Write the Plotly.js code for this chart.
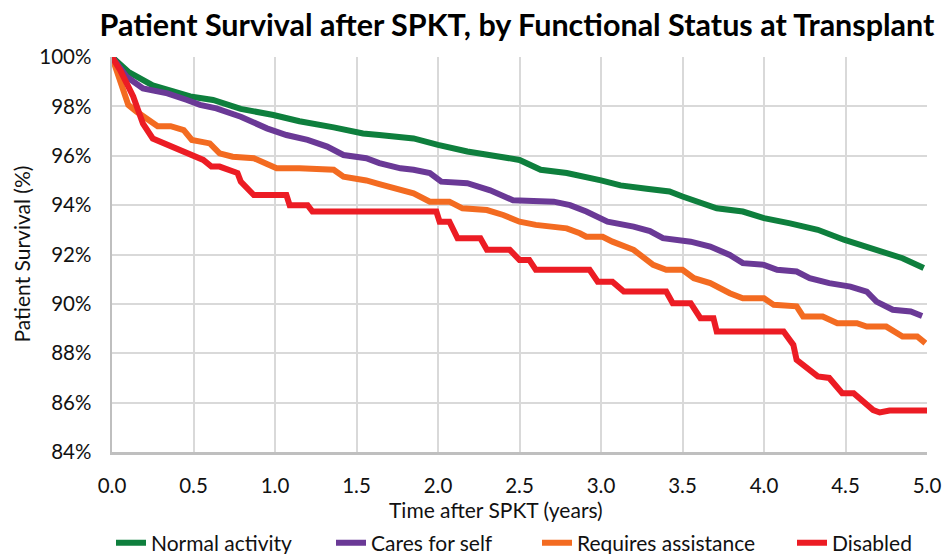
<!DOCTYPE html>
<html>
<head>
<meta charset="utf-8">
<script src="https://cdn.plot.ly/plotly-3.0.1.min.js"></script>
<style>html,body{margin:0;padding:0;background:#fff;}#chart{width:945px;height:554px;}</style>
</head>
<body>
<div id="chart"></div>
<script>
const seriesNames = ["Normal activity", "Cares for self", "Requires assistance", "Disabled"];
const seriesColors = ["#0e7f3d", "#6a3996", "#f36b21", "#ec1c24"];

const normalX = [0, 0.1, 0.25, 0.48, 0.62, 0.79, 0.99, 1.15, 1.36, 1.54, 1.64, 1.77, 1.85, 2.0, 2.18, 2.38, 2.5, 2.63, 2.79, 3.0, 3.12, 3.28, 3.42, 3.5, 3.71, 3.87, 4.0, 4.16, 4.33, 4.49, 4.69, 4.85, 4.98];
const normalY = [100, 99.4, 98.85, 98.4, 98.26, 97.9, 97.65, 97.4, 97.15, 96.9, 96.84, 96.75, 96.7, 96.44, 96.17, 95.96, 95.83, 95.43, 95.3, 95.0, 94.8, 94.66, 94.55, 94.35, 93.87, 93.74, 93.47, 93.26, 93.0, 92.6, 92.19, 91.85, 91.45];

const caresX = [0, 0.09, 0.19, 0.34, 0.46, 0.54, 0.64, 0.79, 0.95, 1.07, 1.2, 1.32, 1.42, 1.56, 1.64, 1.77, 1.85, 1.95, 2.02, 2.18, 2.32, 2.46, 2.71, 2.81, 2.91, 3.04, 3.2, 3.3, 3.38, 3.55, 3.67, 3.79, 3.87, 4.0, 4.08, 4.2, 4.28, 4.4, 4.53, 4.63, 4.69, 4.79, 4.9, 4.97];
const caresY = [100, 99.2, 98.73, 98.53, 98.26, 98.06, 97.92, 97.58, 97.11, 96.84, 96.64, 96.37, 96.03, 95.9, 95.7, 95.49, 95.43, 95.3, 94.95, 94.89, 94.6, 94.2, 94.14, 94.0, 93.74, 93.33, 93.13, 92.95, 92.66, 92.52, 92.32, 91.98, 91.65, 91.58, 91.38, 91.31, 91.04, 90.84, 90.7, 90.5, 90.09, 89.76, 89.69, 89.51];

const assistX = [0, 0.05, 0.1, 0.15, 0.21, 0.28, 0.36, 0.4, 0.44, 0.49, 0.6, 0.66, 0.74, 0.87, 0.95, 1.01, 1.15, 1.36, 1.42, 1.56, 1.64, 1.75, 1.85, 1.95, 2.07, 2.15, 2.3, 2.4, 2.5, 2.6, 2.79, 2.87, 2.91, 3.01, 3.07, 3.2, 3.32, 3.4, 3.5, 3.57, 3.67, 3.79, 3.87, 4.0, 4.06, 4.2, 4.24, 4.36, 4.45, 4.57, 4.63, 4.75, 4.85, 4.94, 4.99];
const assistY = [100, 99.07, 98.06, 97.79, 97.52, 97.2, 97.2, 97.1, 97.04, 96.64, 96.5, 96.1, 95.96, 95.9, 95.7, 95.49, 95.49, 95.43, 95.15, 95.0, 94.85, 94.68, 94.48, 94.14, 94.14, 93.87, 93.8, 93.6, 93.33, 93.2, 93.06, 92.86, 92.72, 92.72, 92.52, 92.19, 91.58, 91.38, 91.38, 91.04, 90.84, 90.43, 90.23, 90.23, 89.96, 89.9, 89.49, 89.49, 89.22, 89.22, 89.08, 89.08, 88.68, 88.68, 88.41];

const disabledX = [0, 0.05, 0.13, 0.19, 0.25, 0.34, 0.44, 0.5, 0.56, 0.61, 0.66, 0.77, 0.79, 0.87, 1.07, 1.09, 1.2, 1.23, 1.99, 2.01, 2.07, 2.12, 2.26, 2.3, 2.44, 2.5, 2.56, 2.6, 2.93, 2.98, 3.07, 3.14, 3.4, 3.44, 3.55, 3.61, 3.69, 3.71, 4.12, 4.18, 4.2, 4.33, 4.4, 4.48, 4.55, 4.67, 4.71, 4.77, 5.0];
const disabledY = [100, 99.47, 98.4, 97.3, 96.7, 96.44, 96.17, 96.03, 95.83, 95.56, 95.56, 95.3, 94.95, 94.41, 94.41, 94.0, 94.0, 93.74, 93.74, 93.33, 93.33, 92.66, 92.66, 92.19, 92.19, 91.78, 91.78, 91.38, 91.38, 90.9, 90.9, 90.5, 90.5, 90.03, 90.03, 89.42, 89.42, 88.88, 88.88, 88.34, 87.73, 87.06, 87.0, 86.38, 86.38, 85.7, 85.6, 85.68, 85.68];

const xTickVals = [0, 0.5, 1, 1.5, 2, 2.5, 3, 3.5, 4, 4.5, 5];
const xTickText = ["0.0", "0.5", "1.0", "1.5", "2.0", "2.5", "3.0", "3.5", "4.0", "4.5", "5.0"];
const yTickVals = [84, 86, 88, 90, 92, 94, 96, 98, 100];
const yTickText = ["84%", "86%", "88%", "90%", "92%", "94%", "96%", "98%", "100%"];

const xs = [normalX, caresX, assistX, disabledX];
const ys = [normalY, caresY, assistY, disabledY];
const legendIds = ['legend', 'legend2', 'legend3', 'legend4'];
const legendStartPx = [119, 339, 545, 800];

const traces = seriesNames.map((n, i) => ({
  x: xs[i], y: ys[i], name: n, type: 'scatter', mode: 'lines',
  line: {color: seriesColors[i], width: 6, shape: 'linear'},
  legend: legendIds[i]
}));

const font = "Lato, 'Open Sans', sans-serif";
const W = 945, H = 554;
const layout = {
  width: W, height: H,
  margin: {l: 112, r: 18, t: 57, b: 102},
  paper_bgcolor: '#fff', plot_bgcolor: '#fff',
  title: {text: '<b>Patient Survival after SPKT, by Functional Status at Transplant</b>',
          font: {family: font, size: 30.5, color: '#000'}, x: 517 / W, xanchor: 'center', xref: 'container',
          y: 1 - 25 / H, yanchor: 'middle', yref: 'container'},
  xaxis: {range: [0, 5], tickvals: xTickVals, ticktext: xTickText, showgrid: true, gridcolor: '#d9d9d9', gridwidth: 2,
          showline: true, linecolor: '#bfbfbf', linewidth: 2.5, zeroline: false, ticks: '', automargin: false,
          ticklabelstandoff: 14,
          tickfont: {family: font, size: 20.5, color: '#111'}},
  yaxis: {range: [84, 100], tickvals: yTickVals, ticktext: yTickText, showgrid: true, gridcolor: '#d9d9d9', gridwidth: 2,
          showline: true, linecolor: '#bfbfbf', linewidth: 2.5, zeroline: false, ticks: '', automargin: false,
          ticklabelstandoff: 14,
          tickfont: {family: font, size: 20.5, color: '#111'}},
  annotations: [
    {text: 'Time after SPKT (years)', xref: 'paper', yref: 'paper', x: (496 - 112) / 815, y: -(510 - 452) / 395,
     xanchor: 'center', yanchor: 'middle', showarrow: false, font: {family: font, size: 21, color: '#111'}},
    {text: 'Patient Survival (%)', xref: 'paper', yref: 'paper', x: (21 - 112) / 815, y: 0.5, textangle: -90,
     xanchor: 'center', yanchor: 'middle', showarrow: false, font: {family: font, size: 21, color: '#111'}}
  ],
  showlegend: true
};
legendIds.forEach((id, i) => {
  layout[id] = {orientation: 'h', xref: 'container', yref: 'container', x: (legendStartPx[i] - 8) / W, xanchor: 'left',
                y: 1 - 543 / H, yanchor: 'middle', font: {family: font, size: 21, color: '#111'},
                bgcolor: 'rgba(0,0,0,0)', borderwidth: 0};
});

Plotly.newPlot('chart', traces, layout, {displayModeBar: false, staticPlot: true});
</script>
</body>
</html>
